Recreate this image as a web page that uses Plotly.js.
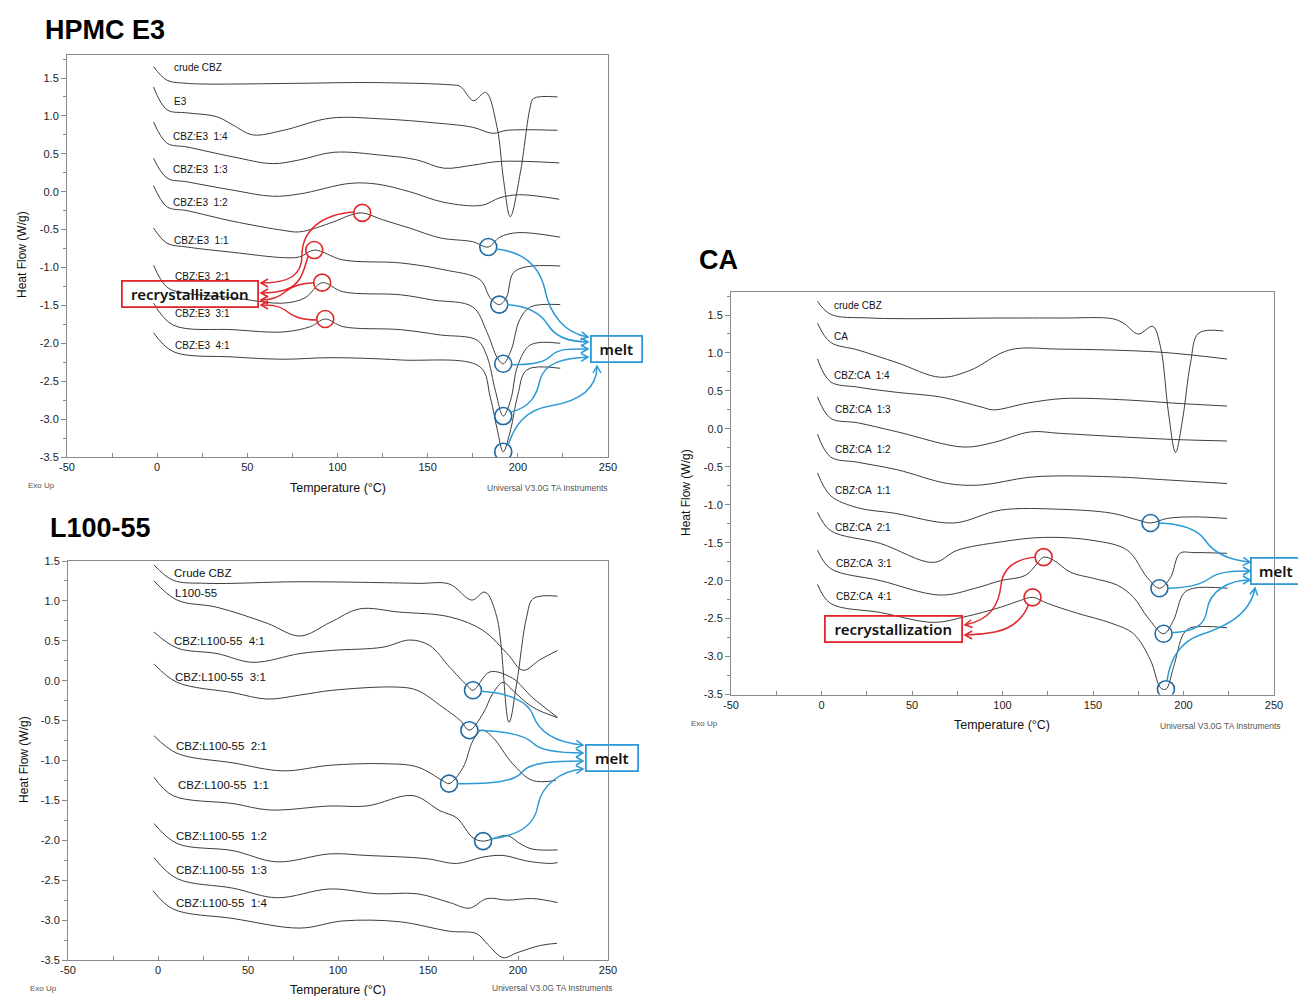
<!DOCTYPE html>
<html><head><meta charset="utf-8">
<script src="https://cdn.plot.ly/plotly-3.0.1.min.js"></script>
<style>html,body{margin:0;padding:0;background:#fff}#chart{width:1298px;height:996px}</style>
</head><body><div id="chart"></div>
<script>
// ===== DATA (temperature in °C, heat flow in W/g) =====
// HPMC E3 panel
const e3CrudeT = [-2, 5.5, 16.5, 27.6, 79, 118, 162.5, 168, 175.4, 182.2, 188.4, 192.1, 195.8, 201.3, 206.9, 208.7, 222];
const e3CrudeHF = [1.65, 1.47, 1.43, 1.42, 1.43, 1.44, 1.41, 1.39, 1.20, 1.31, 0.86, 0.15, -0.33, 0.24, 1.12, 1.23, 1.25];
const e3PolyT = [-2, 5.5, 16.6, 33, 42, 53, 70, 96, 125, 153, 175, 186, 194, 222];
const e3PolyHF = [1.38, 1.08, 1.04, 0.99, 0.88, 0.75, 0.81, 0.97, 0.96, 0.91, 0.85, 0.77, 0.81, 0.81];
const e3R14T = [-2, 5.5, 16.6, 42, 64, 79, 98, 125, 144, 159, 175, 190, 223];
const e3R14HF = [0.92, 0.64, 0.59, 0.46, 0.37, 0.42, 0.52, 0.48, 0.42, 0.31, 0.35, 0.40, 0.38];
const e3R13T = [-2, 5.5, 16.6, 42, 64, 79, 107, 122, 140, 159, 180, 190, 201, 223];
const e3R13HF = [0.44, 0.18, 0.13, 0.02, -0.06, -0.03, 0.11, 0.10, 0.0, -0.14, -0.18, -0.08, -0.04, -0.10];
const e3R12T = [-2, 5.5, 16.6, 42, 70, 79, 97.6, 107, 113.7, 125, 140, 157, 175, 183.6, 190, 200, 223.5];
const e3R12HF = [0.08, -0.20, -0.25, -0.39, -0.51, -0.53, -0.40, -0.31, -0.28, -0.37, -0.48, -0.61, -0.66, -0.73, -0.60, -0.54, -0.60];
const e3R11T = [-2, 5.5, 16.6, 42, 70, 79, 87.1, 103, 135, 159, 179, 184.7, 189.7, 193.6, 197.5, 205, 223.5];
const e3R11HF = [-0.48, -0.68, -0.73, -0.80, -0.87, -0.86, -0.77, -0.90, -0.94, -1.03, -1.16, -1.40, -1.49, -1.40, -1.07, -0.99, -0.98];
const e3R21T = [-2, 5.5, 16.6, 42, 70, 82, 91.5, 103, 135, 153, 175, 183, 188.6, 191.9, 196.3, 201, 207, 223.5];
const e3R21HF = [-0.97, -1.26, -1.34, -1.40, -1.47, -1.40, -1.20, -1.32, -1.36, -1.43, -1.52, -1.86, -2.19, -2.27, -2.09, -1.69, -1.52, -1.49];
const e3R31T = [-2, 8.9, 42, 70, 85, 93.2, 103, 135, 157, 177.5, 183, 187.5, 191.9, 196, 200, 207, 223.5];
const e3R31HF = [-1.47, -1.76, -1.82, -1.85, -1.78, -1.68, -1.78, -1.82, -1.89, -1.96, -2.18, -2.62, -2.96, -2.75, -2.29, -2.02, -2.00];
const e3R41T = [-2, 8.9, 42, 70, 96, 135, 179, 184.7, 188.6, 191.9, 196, 200, 205, 223.5];
const e3R41HF = [-1.86, -2.11, -2.18, -2.21, -2.19, -2.22, -2.31, -2.71, -3.14, -3.43, -3.14, -2.68, -2.35, -2.33];
const e3RecrT = [113.7, 87.1, 91.5, 93.2];
const e3RecrHF = [-0.28, -0.77, -1.20, -1.68];
const e3MeltT = [183.6, 189.7, 191.9, 191.9, 191.9];
const e3MeltHF = [-0.73, -1.49, -2.27, -2.96, -3.43];
const e3Labels = ['crude CBZ', 'E3', 'CBZ:E3  1:4', 'CBZ:E3  1:3', 'CBZ:E3  1:2', 'CBZ:E3  1:1', 'CBZ:E3  2:1', 'CBZ:E3  3:1', 'CBZ:E3  4:1'];

// L100-55 panel
const lCrudeT = [-2.2, 8.3, 27, 79, 144, 162, 174.3, 181.7, 188.2, 195, 199.3, 204.8, 208.5, 222];
const lCrudeHF = [1.45, 1.26, 1.22, 1.24, 1.22, 1.21, 1.01, 1.11, 0.80, -0.52, -0.03, 0.80, 1.03, 1.06];
const lPolyT = [-2.2, 10.6, 32.8, 60.6, 78.9, 95.6, 112, 134, 162, 180.6, 194, 202.8, 212, 222];
const lPolyHF = [1.25, 1.01, 0.92, 0.72, 0.56, 0.73, 0.90, 0.86, 0.80, 0.63, 0.34, 0.13, 0.26, 0.38];
const lR41T = [-2.2, 10.6, 32.8, 52.8, 78.9, 97, 125, 140, 151, 162, 171.7, 175, 184.4, 197, 208, 222];
const lR41HF = [0.61, 0.41, 0.34, 0.23, 0.34, 0.38, 0.42, 0.51, 0.44, 0.17, -0.06, -0.12, 0.11, 0.03, -0.21, -0.46];
const lR31T = [-2.2, 10.6, 41.7, 60.6, 78.9, 97, 133, 144, 158, 168, 173, 180.6, 186, 191.7, 197, 208, 221.7];
const lR31HF = [0.21, -0.02, -0.15, -0.23, -0.18, -0.12, -0.08, -0.12, -0.33, -0.50, -0.62, -0.41, -0.16, -0.02, -0.12, -0.33, -0.46];
const lR21T = [-2.2, 10.6, 41.7, 69.4, 95.6, 125, 144, 158, 161.7, 169.4, 175, 180, 186, 197, 208, 221];
const lR21HF = [-0.69, -0.91, -1.03, -1.13, -1.06, -1.04, -1.08, -1.25, -1.29, -1.09, -0.75, -0.62, -0.71, -1.04, -1.25, -1.25];
const lR11T = [-2.2, 8.3, 41.7, 62, 95.6, 116, 141.7, 156.7, 166, 175, 180.6, 194, 201, 208, 222];
const lR11HF = [-1.21, -1.44, -1.54, -1.62, -1.57, -1.57, -1.44, -1.63, -1.72, -1.97, -2.01, -1.94, -2.04, -2.11, -2.12];
const lR12T = [-2.2, 10.6, 41.7, 66, 95.6, 116, 149, 166, 180.6, 191.7, 205, 218, 222];
const lR12HF = [-1.79, -2.04, -2.13, -2.27, -2.17, -2.19, -2.23, -2.29, -2.21, -2.19, -2.26, -2.29, -2.28];
const lR13T = [-2.2, 10.6, 41.7, 66, 95.6, 121.7, 144, 162, 173, 182.8, 194, 208, 222];
const lR13HF = [-2.22, -2.48, -2.60, -2.72, -2.61, -2.67, -2.67, -2.78, -2.85, -2.73, -2.75, -2.73, -2.78];
const lR14T = [-2.8, 8.3, 41.7, 78.9, 102.8, 134, 162, 177, 183, 191.7, 199.4, 212, 221.7];
const lR14HF = [-2.63, -2.86, -2.98, -3.10, -3.01, -3.02, -3.14, -3.17, -3.30, -3.47, -3.41, -3.32, -3.29];
const lMeltT = [175, 173, 161.7, 180.6];
const lMeltHF = [-0.12, -0.62, -1.29, -2.01];
const lLabels = ['Crude CBZ', 'L100-55', 'CBZ:L100-55  4:1', 'CBZ:L100-55  3:1', 'CBZ:L100-55  2:1', 'CBZ:L100-55  1:1', 'CBZ:L100-55  1:2', 'CBZ:L100-55  1:3', 'CBZ:L100-55  1:4'];

// CA panel
const caCrudeT = [-2.2, 5, 27, 99, 132, 161, 167, 175, 183, 187.3, 191.7, 195.6, 199.4, 203.9, 208.3, 222];
const caCrudeHF = [1.68, 1.51, 1.46, 1.46, 1.46, 1.45, 1.39, 1.25, 1.35, 1.08, 0.21, -0.31, 0.11, 0.87, 1.26, 1.29];
const caPolyT = [-2.2, 5, 20, 42, 65.7, 82, 104, 132, 187, 224];
const caPolyHF = [1.39, 1.14, 1.04, 0.87, 0.68, 0.77, 1.04, 1.05, 1.01, 0.92];
const caR14T = [-2.2, 5, 20, 42, 65.7, 88, 95, 114, 134, 169, 194, 224];
const caR14HF = [0.92, 0.62, 0.55, 0.48, 0.42, 0.29, 0.25, 0.34, 0.40, 0.38, 0.34, 0.30];
const caR13T = [-2.2, 5, 20, 42, 78.5, 95, 115.5, 132, 169, 194.5, 224];
const caR13HF = [0.42, 0.14, 0.08, -0.04, -0.24, -0.18, -0.04, -0.06, -0.11, -0.14, -0.16];
const caR12T = [-2.2, 5, 20, 42, 69.6, 88, 114, 132, 169, 182, 224];
const caR12HF = [-0.07, -0.37, -0.44, -0.54, -0.72, -0.74, -0.64, -0.62, -0.64, -0.66, -0.72];
const caR11T = [-2.2, 5, 20, 40, 73, 99, 132, 160, 174.6, 181.8, 191, 205.5, 224];
const caR11HF = [-0.58, -0.88, -1.04, -1.11, -1.24, -1.07, -1.06, -1.11, -1.20, -1.24, -1.18, -1.16, -1.18];
const caR21T = [-2.2, 5, 32.6, 62, 75, 99, 122.6, 150, 169, 180, 186.7, 192.8, 198, 205.5, 224];
const caR21HF = [-1.10, -1.34, -1.51, -1.76, -1.60, -1.49, -1.43, -1.47, -1.60, -1.96, -2.10, -1.96, -1.64, -1.63, -1.64];
const caR31T = [-2.2, 5, 32.6, 65.7, 85, 98.9, 112.7, 119.3, 122.7, 128.2, 137.6, 150.3, 163.5, 172.4, 180.1, 189, 194.5, 200, 205.5, 224.3];
const caR31HF = [-1.60, -1.84, -2.00, -2.19, -2.10, -2.00, -1.93, -1.77, -1.69, -1.73, -1.89, -1.97, -2.06, -2.22, -2.48, -2.70, -2.52, -2.17, -2.10, -2.10];
const caR41T = [-2.2, 5, 32.6, 62, 78.5, 99, 110, 116.6, 124.9, 141.4, 160, 172.4, 181.8, 187.3, 190.3, 194.5, 200, 203.9, 224];
const caR41HF = [-2.05, -2.30, -2.42, -2.55, -2.48, -2.35, -2.26, -2.22, -2.30, -2.43, -2.56, -2.70, -3.05, -3.41, -3.43, -3.14, -2.70, -2.62, -2.62];
const caRecrT = [122.7, 116.6];
const caRecrHF = [-1.69, -2.22];
const caMeltT = [181.8, 186.7, 189.0, 190.3];
const caMeltHF = [-1.24, -2.10, -2.70, -3.43];
const caLabels = ['crude CBZ', 'CA', 'CBZ:CA  1:4', 'CBZ:CA  1:3', 'CBZ:CA  1:2', 'CBZ:CA  1:1', 'CBZ:CA  2:1', 'CBZ:CA  3:1', 'CBZ:CA  4:1'];

const yTickVals = [-3.5, -3.0, -2.5, -2.0, -1.5, -1.0, -0.5, 0.0, 0.5, 1.0, 1.5];
const xTickVals = [-50, 0, 50, 100, 150, 200, 250];

// ===== LAYOUT GEOMETRY =====
const W = 1298, H = 996;
const XR = [-50, 250];
const AX = {
  e3: {x: 'x', y: 'y', xd: [67, 608], yd: [457, 55], yr: [-3.5, 1.8034]},
  l1: {x: 'x2', y: 'y2', xd: [68, 608], yd: [960, 561], yr: [-3.5, 1.5]},
  ca: {x: 'x3', y: 'y3', xd: [731, 1274], yd: [694.5, 292], yr: [-3.5, 1.803]}
};
function toPx(p, T, HF) {
  const a = AX[p];
  return [a.xd[0] + (a.xd[1] - a.xd[0]) * (T - XR[0]) / (XR[1] - XR[0]),
          a.yd[0] + (a.yd[1] - a.yd[0]) * (HF - a.yr[0]) / (a.yr[1] - a.yr[0])];
}
const PX = X => X / W, PY = Y => 1 - Y / H;

const FONT = 'Liberation Sans, Arial, sans-serif';
const BOXFONT = 'Noto Sans, Open Sans, sans-serif';
const RED = '#e2262c', BLUE = '#2d9ad6', CRED = '#dc2a2a', CBLUE = '#1f6aa3';
const LINE = '#3d3d3d', AXC = '#8a8a8a';

const traces = [];
function addCurve(p, T, HF) {
  traces.push({type: 'scatter', mode: 'lines', x: T, y: HF, xaxis: AX[p].x, yaxis: AX[p].y,
    line: {color: LINE, width: 1, shape: 'spline', smoothing: 1.0}, hoverinfo: 'skip', showlegend: false});
}
function addCircles(p, T, HF, color) {
  traces.push({type: 'scatter', mode: 'markers', x: T, y: HF, xaxis: AX[p].x, yaxis: AX[p].y,
    marker: {symbol: 'circle-open', size: 17, color: color, line: {width: 1.6, color: color}},
    hoverinfo: 'skip', showlegend: false});
}
[[e3CrudeT, e3CrudeHF], [e3PolyT, e3PolyHF], [e3R14T, e3R14HF], [e3R13T, e3R13HF], [e3R12T, e3R12HF],
 [e3R11T, e3R11HF], [e3R21T, e3R21HF], [e3R31T, e3R31HF], [e3R41T, e3R41HF]].forEach(c => addCurve('e3', c[0], c[1]));
[[lCrudeT, lCrudeHF], [lPolyT, lPolyHF], [lR41T, lR41HF], [lR31T, lR31HF], [lR21T, lR21HF],
 [lR11T, lR11HF], [lR12T, lR12HF], [lR13T, lR13HF], [lR14T, lR14HF]].forEach(c => addCurve('l1', c[0], c[1]));
[[caCrudeT, caCrudeHF], [caPolyT, caPolyHF], [caR14T, caR14HF], [caR13T, caR13HF], [caR12T, caR12HF],
 [caR11T, caR11HF], [caR21T, caR21HF], [caR31T, caR31HF], [caR41T, caR41HF]].forEach(c => addCurve('ca', c[0], c[1]));
addCircles('e3', e3RecrT, e3RecrHF, CRED);
addCircles('e3', e3MeltT, e3MeltHF, CBLUE);
addCircles('l1', lMeltT, lMeltHF, CBLUE);
addCircles('ca', caRecrT, caRecrHF, CRED);
addCircles('ca', caMeltT, caMeltHF, CBLUE);

// ===== ARROWS (start at the event circle, end at the label box) =====
const arrows = [
  {p: 'e3', T: e3RecrT, HF: e3RecrHF, i: 0, off: [-8, -1], c: RED, pts: [[320, 214], [302, 232], [302, 255], [302, 275], [290, 283], [261, 283]]},
  {p: 'e3', T: e3RecrT, HF: e3RecrHF, i: 1, off: [-6, 6], c: RED, pts: [[304, 268], [302, 285], [285, 290], [275, 293], [268, 293], [261, 293]]},
  {p: 'e3', T: e3RecrT, HF: e3RecrHF, i: 2, off: [-8, 0], c: RED, pts: [[300, 283], [292, 286], [285, 292], [278, 298], [270, 300], [261, 300]]},
  {p: 'e3', T: e3RecrT, HF: e3RecrHF, i: 3, off: [-8, 1], c: RED, pts: [[300, 320], [292, 316], [285, 310], [278, 305], [270, 305], [261, 305]]},
  {p: 'e3', T: e3MeltT, HF: e3MeltHF, i: 0, off: [8, 2], c: BLUE, pts: [[525, 252], [540, 268], [545, 290], [550, 315], [565, 333], [588, 337]]},
  {p: 'e3', T: e3MeltT, HF: e3MeltHF, i: 1, off: [8, 0], c: BLUE, pts: [[530, 306], [542, 315], [548, 325], [556, 338], [570, 342], [588, 342]]},
  {p: 'e3', T: e3MeltT, HF: e3MeltHF, i: 2, off: [8, 1], c: BLUE, pts: [[535, 365], [545, 362], [552, 355], [560, 348], [572, 349], [588, 349]]},
  {p: 'e3', T: e3MeltT, HF: e3MeltHF, i: 3, off: [7, -4], c: BLUE, pts: [[530, 408], [537, 395], [540, 380], [545, 362], [565, 358], [588, 357]]},
  {p: 'e3', T: e3MeltT, HF: e3MeltHF, i: 4, off: [5, -7], c: BLUE, pts: [[515, 425], [525, 410], [550, 406], [575, 402], [597, 392], [597, 366]]},
  {p: 'l1', T: lMeltT, HF: lMeltHF, i: 0, off: [8, 1], c: BLUE, pts: [[510, 693], [528, 702], [533, 715], [540, 735], [560, 743], [583, 745]]},
  {p: 'l1', T: lMeltT, HF: lMeltHF, i: 1, off: [8, 0], c: BLUE, pts: [[505, 731], [525, 735], [533, 743], [540, 751], [560, 753], [583, 753]]},
  {p: 'l1', T: lMeltT, HF: lMeltHF, i: 2, off: [8, 0], c: BLUE, pts: [[490, 784], [515, 782], [522, 772], [530, 762], [555, 761], [583, 761]]},
  {p: 'l1', T: lMeltT, HF: lMeltHF, i: 3, off: [8, -2], c: BLUE, pts: [[520, 835], [535, 825], [538, 805], [542, 785], [560, 771], [583, 769]]},
  {p: 'ca', T: caRecrT, HF: caRecrHF, i: 0, off: [-8, 0], c: RED, pts: [[1015, 559], [1003, 568], [1001, 585], [999, 605], [990, 620], [965, 625]]},
  {p: 'ca', T: caRecrT, HF: caRecrHF, i: 1, off: [-4, 7], c: RED, pts: [[1025, 615], [1015, 628], [995, 632], [985, 634], [975, 635], [965, 635]]},
  {p: 'ca', T: caMeltT, HF: caMeltHF, i: 0, off: [8, 0], c: BLUE, pts: [[1185, 524], [1198, 530], [1205, 540], [1213, 552], [1228, 560], [1250, 562]]},
  {p: 'ca', T: caMeltT, HF: caMeltHF, i: 1, off: [8, 0], c: BLUE, pts: [[1190, 588], [1202, 584], [1210, 578], [1220, 571], [1235, 571], [1250, 571]]},
  {p: 'ca', T: caMeltT, HF: caMeltHF, i: 2, off: [8, -1], c: BLUE, pts: [[1195, 632], [1205, 625], [1207, 610], [1210, 590], [1230, 580], [1250, 580]]},
  {p: 'ca', T: caMeltT, HF: caMeltHF, i: 3, off: [1, -8], c: BLUE, pts: [[1170, 660], [1180, 642], [1200, 635], [1225, 627], [1250, 615], [1255, 588]]}
];
const shapes = [];
arrows.forEach(a => {
  const c0 = toPx(a.p, a.T[a.i], a.HF[a.i]);
  const s = [c0[0] + a.off[0], c0[1] + a.off[1]];
  const f = q => PX(q[0]).toFixed(5) + ',' + PY(q[1]).toFixed(5);
  let d = 'M' + f(s);
  for (let k = 0; k < a.pts.length; k += 3) d += ' C' + f(a.pts[k]) + ' ' + f(a.pts[k + 1]) + ' ' + f(a.pts[k + 2]);
  shapes.push({type: 'path', xref: 'paper', yref: 'paper', path: d, line: {color: a.c, width: 1.5}, layer: 'above'});
  const tip = a.pts[a.pts.length - 1], prev = a.pts[a.pts.length - 2];
  let dx = tip[0] - prev[0], dy = tip[1] - prev[1];
  const L = Math.hypot(dx, dy) || 1; dx /= L; dy /= L;
  const nx = -dy, ny = dx, al = 7, aw = 4;
  const h1 = [tip[0] - al * dx + aw * nx, tip[1] - al * dy + aw * ny];
  const h2 = [tip[0] - al * dx - aw * nx, tip[1] - al * dy - aw * ny];
  shapes.push({type: 'path', xref: 'paper', yref: 'paper', path: 'M' + f(h1) + ' L' + f(tip) + ' L' + f(h2),
    line: {color: a.c, width: 1.5}, layer: 'above'});
});

// ===== TEXT =====
const annotations = [];
function txt(X, Y, text, size, opts) {
  annotations.push(Object.assign({xref: 'paper', yref: 'paper', x: PX(X), y: PY(Y), text: text, showarrow: false,
    xanchor: 'left', yanchor: 'middle', font: {family: FONT, size: size, color: '#111'}}, opts || {}));
}
const nb = s => s.replace(/  /g, ' \u00a0');
const e3LabelPos = [[172, 68], [172, 101], [171, 136], [171, 169], [171, 203], [172, 240], [173, 276], [173, 313], [173, 345]];
e3Labels.forEach((s, i) => txt(e3LabelPos[i][0], e3LabelPos[i][1], nb(s), 10));
const lLabelPos = [[172, 573], [173, 593], [172, 641], [173, 677], [174, 746], [176, 785], [174, 836], [174, 870], [174, 903]];
lLabels.forEach((s, i) => txt(lLabelPos[i][0], lLabelPos[i][1], nb(s), 11.5));
const caLabelPos = [[832, 305], [832, 336], [832, 375], [833, 409], [833, 449], [833, 490], [833, 527], [834, 563], [834, 596]];
caLabels.forEach((s, i) => txt(caLabelPos[i][0], caLabelPos[i][1], nb(s), 10));

// panel titles
txt(43, 30, '<b>HPMC E3</b>', 27, {font: {family: FONT, size: 27, color: '#000'}});
txt(48, 528, '<b>L100-55</b>', 27, {font: {family: FONT, size: 27, color: '#000'}});
txt(697, 260, '<b>CA</b>', 27, {font: {family: FONT, size: 27, color: '#000'}});
// axis titles
[[338, 488], [338, 990], [1002, 725]].forEach(q => txt(q[0], q[1], 'Temperature (°C)', 12.5, {xanchor: 'center', font: {family: FONT, size: 12.5, color: '#111'}}));
[[22, 255], [24, 760], [686, 493]].forEach(q => txt(q[0], q[1], 'Heat Flow (W/g)', 12, {xanchor: 'center', textangle: -90, font: {family: FONT, size: 12, color: '#111'}}));
// instrument notes
[[26, 485], [28, 988], [689, 723]].forEach(q => txt(q[0], q[1], 'Exo Up', 8, {font: {family: FONT, size: 8, color: '#555'}}));
[[610, 488], [615, 988], [1283, 726]].forEach(q => txt(q[0], q[1], 'Universal V3.0G TA Instruments', 8.5, {xanchor: 'right', font: {family: FONT, size: 8.5, color: '#555'}}));
// label boxes
function box(X, Y, text, color, w) {
  annotations.push({xref: 'paper', yref: 'paper', x: PX(X), y: PY(Y), text: text, showarrow: false,
    xanchor: 'center', yanchor: 'middle', width: w, height: 22, borderpad: 1, borderwidth: 1.8,
    bordercolor: color, bgcolor: 'rgba(255,255,255,0)', font: {family: BOXFONT, size: 15, weight: 600, color: '#111'}});
}
box(189.5, 294, 'recrystallization', RED, 132);
box(893, 628.5, 'recrystallization', RED, 133);
box(616, 348.5, 'melt', BLUE, 47);
box(611.5, 758, 'melt', BLUE, 48);
box(1276, 571, 'melt', BLUE, 46);

// ===== AXES =====
function xAxis(p) {
  const a = AX[p];
  return {domain: [PX(a.xd[0]), PX(a.xd[1])], range: XR, anchor: a.y, showline: true, mirror: true,
    linecolor: AXC, linewidth: 1, showgrid: false, zeroline: false, fixedrange: true,
    tickmode: 'array', tickvals: xTickVals, ticktext: xTickVals.map(v => String(v)),
    ticks: 'inside', ticklen: 4, tickcolor: AXC,
    minor: {tickmode: 'linear', tick0: 0, dtick: 25, ticks: 'inside', ticklen: 4, tickcolor: AXC, showgrid: false},
    tickfont: {family: FONT, size: 11, color: '#222'}};
}
function yAxis(p) {
  const a = AX[p];
  return {domain: [PY(a.yd[0]), PY(a.yd[1])], range: a.yr, anchor: a.x, showline: true, mirror: true,
    linecolor: AXC, linewidth: 1, showgrid: false, zeroline: false, fixedrange: true,
    tickmode: 'array', tickvals: yTickVals, ticktext: yTickVals.map(v => v.toFixed(1)),
    ticks: 'outside', ticklen: 5, tickcolor: AXC,
    minor: {tickmode: 'linear', tick0: 0, dtick: 0.25, ticks: 'outside', ticklen: 3, tickcolor: AXC, showgrid: false},
    tickfont: {family: FONT, size: 11, color: '#222'}};
}

const layout = {
  width: W, height: H, margin: {l: 0, r: 0, t: 0, b: 0}, paper_bgcolor: '#fff', plot_bgcolor: '#fff',
  showlegend: false, hovermode: false,
  xaxis: xAxis('e3'), yaxis: yAxis('e3'),
  xaxis2: xAxis('l1'), yaxis2: yAxis('l1'),
  xaxis3: xAxis('ca'), yaxis3: yAxis('ca'),
  shapes: shapes, annotations: annotations
};
Plotly.newPlot('chart', traces, layout, {displayModeBar: false, staticPlot: true});
</script>
</body></html>
